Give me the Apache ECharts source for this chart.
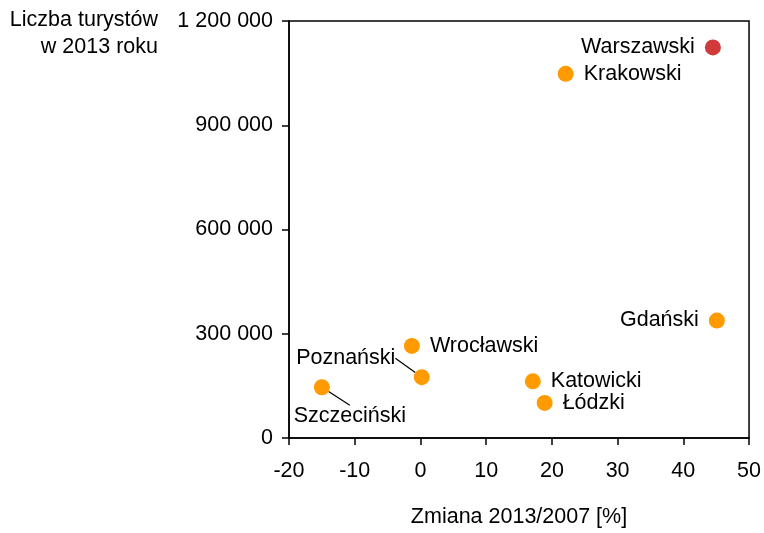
<!DOCTYPE html>
<html><head><meta charset="utf-8">
<script src="https://cdn.jsdelivr.net/npm/echarts@6/dist/echarts.min.js"></script>
<style>html,body{margin:0;padding:0;background:#fff}#c{width:764px;height:533px}</style>
</head><body><div id="c"></div>
<script>
var regions = ['Warszawski','Krakowski','Gdański','Wrocławski','Poznański','Szczeciński','Katowicki','Łódzki'];
var changePct = [44.5, 22.1, 45.1, -1.3, 0.2, -15.0, 17.1, 18.9];
var tourists2013 = [1124000, 1048000, 338000, 265000, 175000, 146000, 163000, 101000];
var labelSide = ['left','right','left','right','moved','moved','right','right'];
var highlightRegion = 'Warszawski';
var xTicks = [-20, 50, 10];
var yTicks = [0, 1200000, 300000];
var xTitle = 'Zmiana 2013/2007 [%]';
var yTitle = 'Liczba turystów\nw 2013 roku';

var FONT = 'Liberation Sans, Arial, sans-serif';
var FS = 21.5;
var moves = {'Poznański': [-76, -19], 'Szczeciński': [28, 29]};

var data = regions.map(function(n, i){
  var item = {name: n, value: [changePct[i], tourists2013[i]],
    itemStyle: {color: n === highlightRegion ? '#d13a3a' : '#ff9a00', opacity: 1}};
  if (labelSide[i] === 'moved') {
    item.label = {position: 'inside'};
    item.labelLine = {show: true};
  } else {
    item.label = {position: labelSide[i], distance: 10};
    item.labelLine = {show: false};
  }
  return item;
});

var chart = echarts.init(document.getElementById('c'));
chart.setOption({
  animation: false,
  grid: {left: 289, width: 461, top: 21, height: 426, show: true, borderColor: '#000', borderWidth: 1.5},
  xAxis: {type: 'value', min: xTicks[0], max: xTicks[1], interval: xTicks[2],
    name: xTitle, nameLocation: 'middle', nameGap: 68,
    nameTextStyle: {color: '#000', fontSize: FS, fontFamily: FONT},
    axisLine: {onZero: false, lineStyle: {color: '#000', width: 1.5}},
    axisTick: {show: true, length: 7, lineStyle: {color: '#000', width: 1.5}},
    axisLabel: {color: '#000', fontSize: FS, fontFamily: FONT, margin: 22},
    splitLine: {show: false}},
  yAxis: {type: 'value', min: yTicks[0], max: yTicks[1], interval: yTicks[2],
    axisLine: {show: true, onZero: false, lineStyle: {color: '#000', width: 1.5}},
    axisTick: {show: true, length: 7, lineStyle: {color: '#000', width: 1.5}},
    axisLabel: {color: '#000', fontSize: FS, fontFamily: FONT, margin: 16,
      formatter: function(v){ return String(v).replace(/\B(?=(\d{3})+(?!\d))/g, ' '); }},
    splitLine: {show: false}},
  graphic: [{type: 'text', right: 764 - 158, top: 7,
    style: {text: yTitle, fill: '#000', font: FS + 'px ' + FONT, textAlign: 'right', lineHeight: 27}}],
  series: [{
    type: 'scatter', symbolSize: 16, data: data,
    label: {show: true, formatter: '{b}', color: '#000', fontSize: FS, fontFamily: FONT},
    labelLine: {lineStyle: {color: '#000', width: 1.2}},
    labelLayout: function(p){
      var m = moves[regions[p.dataIndex]];
      if (m) return {dx: m[0], dy: m[1]};
      return {};
    }
  }]
});
</script></body></html>
